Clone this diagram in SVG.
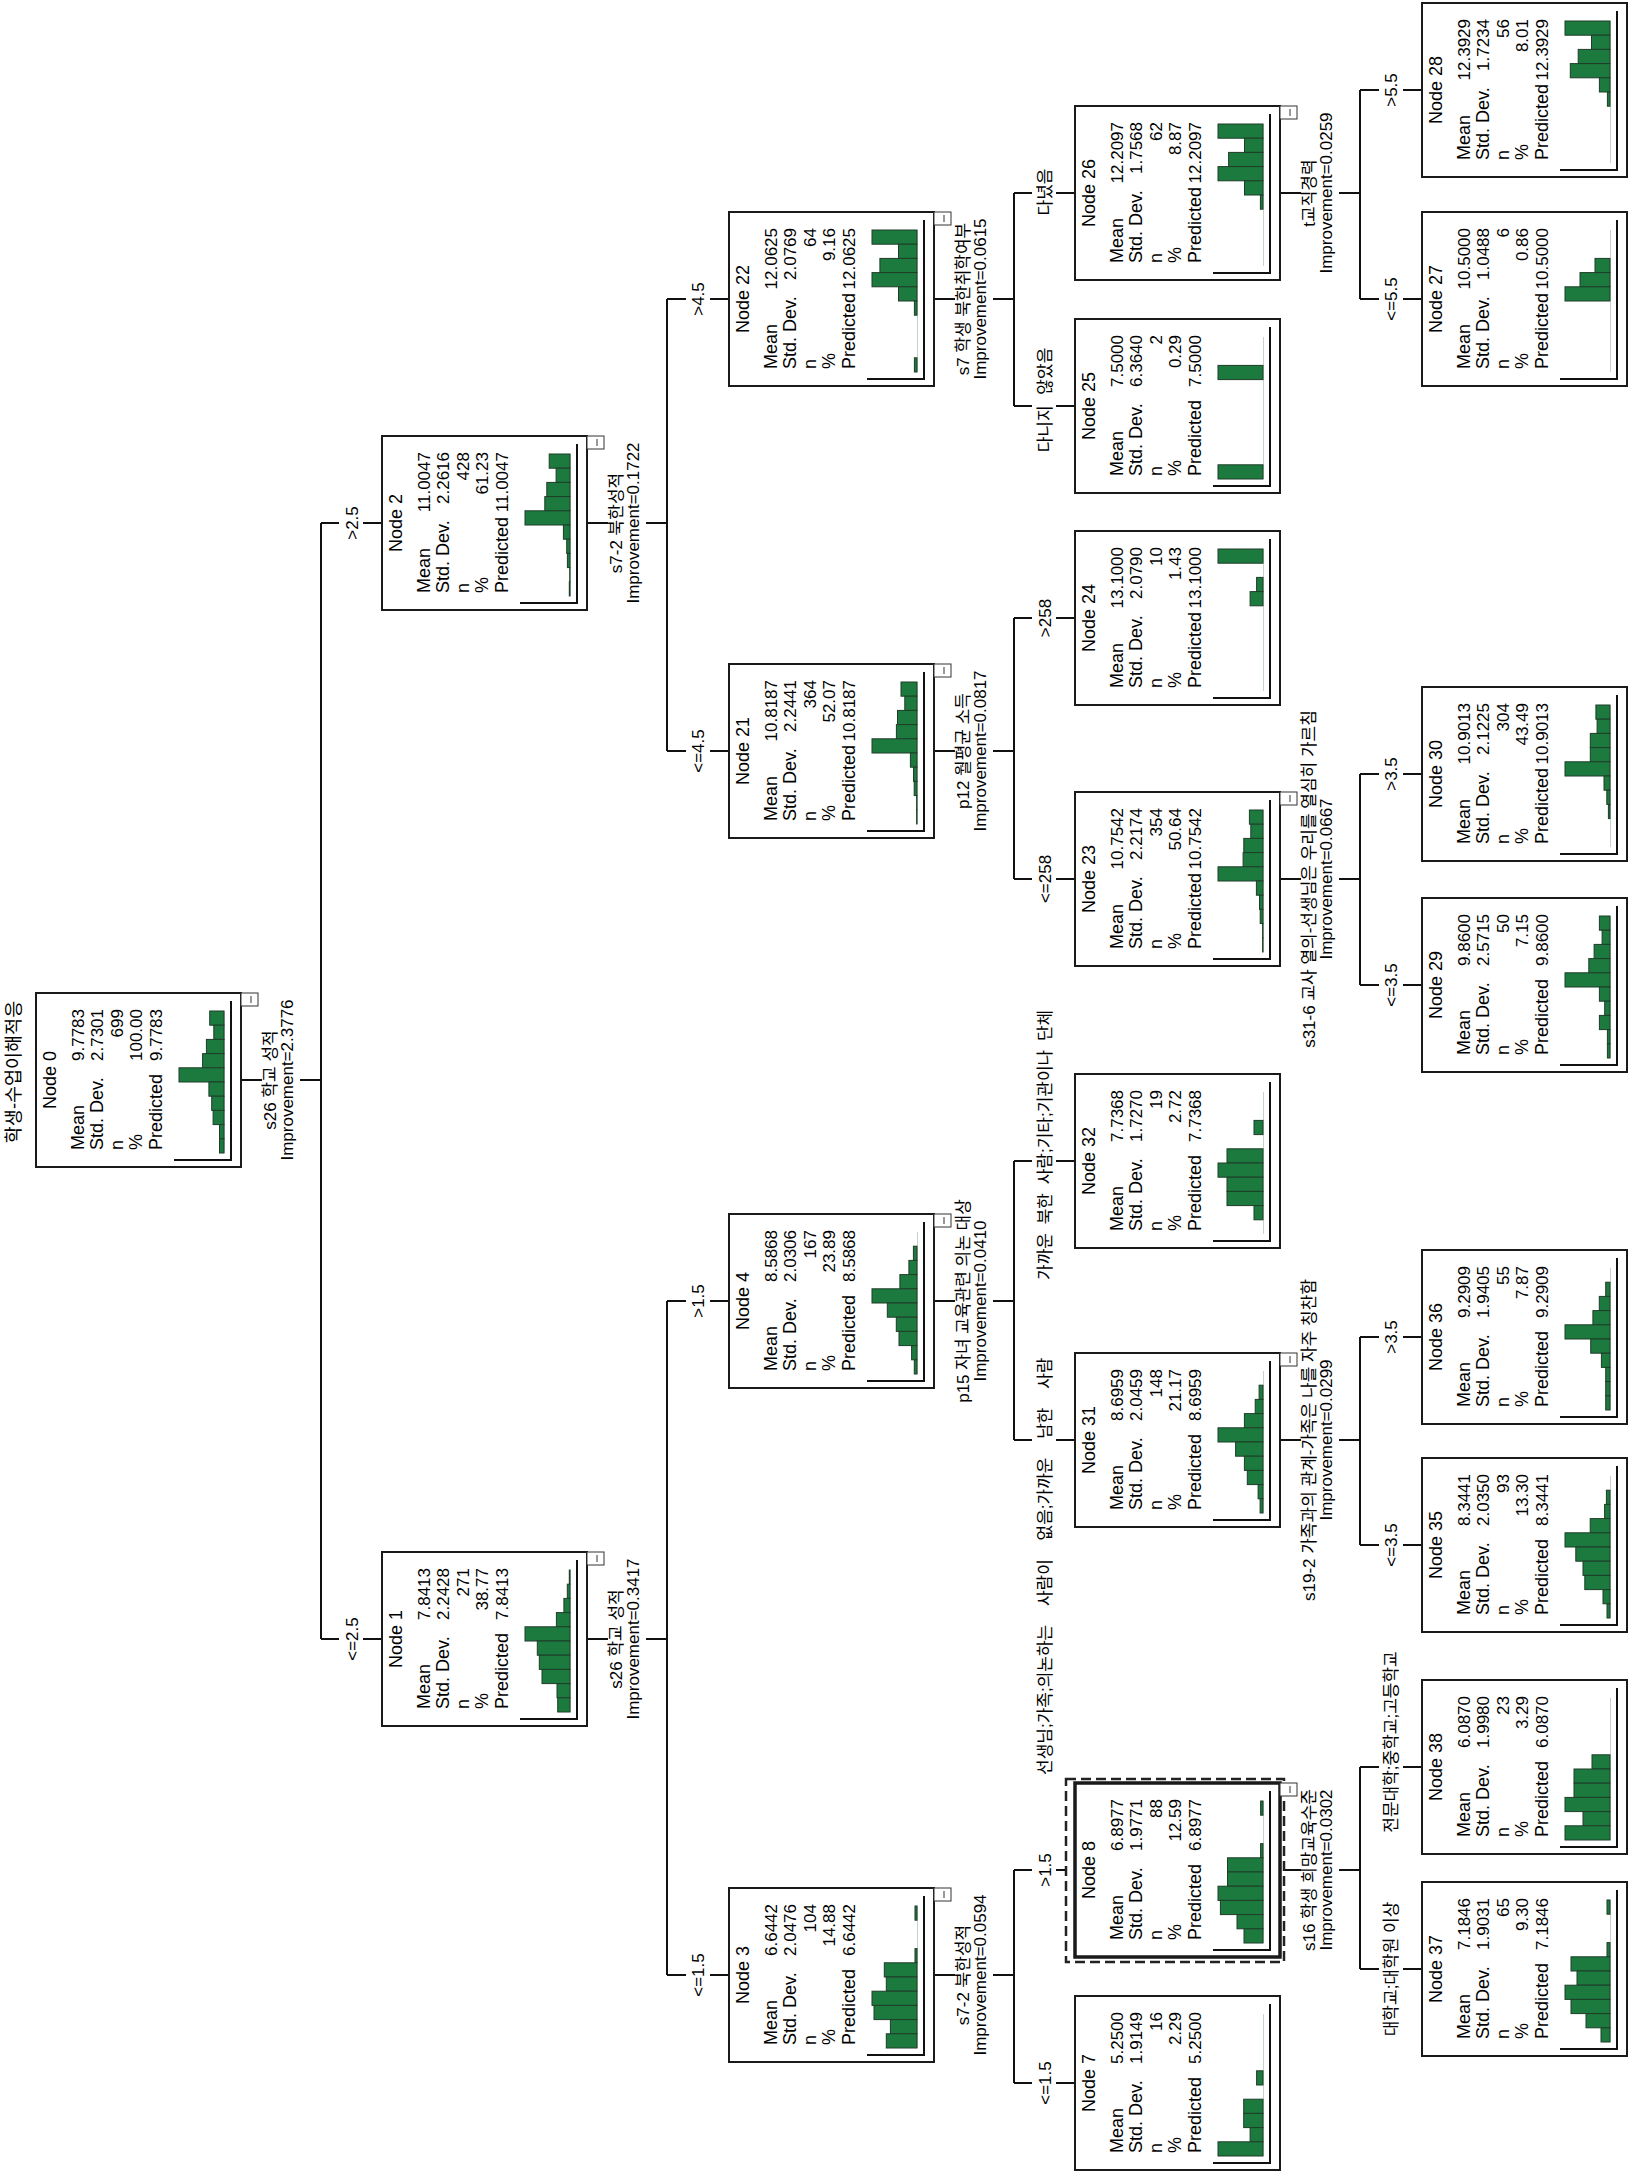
<svg xmlns="http://www.w3.org/2000/svg" width="1630" height="2173" viewBox="0 0 1630 2173">
<style>
.box{fill:#fff;stroke:#1a1a1a;stroke-width:2}
.mini{fill:#fff;stroke:#333;stroke-width:1}
.base{stroke:#c4d4c8;stroke-width:1}
.b{fill:#1c7a3e;stroke:#1f3d28;stroke-width:1}
.ax{fill:none;stroke:#111;stroke-width:2}
.t{font-family:"Liberation Sans","Noto Sans CJK KR",sans-serif;font-size:18px;fill:#000}
.t .v{font-size:17px}
.l{font-family:"Liberation Sans","Noto Sans CJK KR",sans-serif;font-size:17px;fill:#000}
.c{stroke:#111;stroke-width:2;fill:none}
.w{fill:#fff}
</style>
<rect width="1630" height="2173" fill="#fff"/>
<text class="t" transform="translate(20,1072) rotate(-90)" text-anchor="middle" style="font-size:18.5px">학생-수업이해적응</text>

<g id="connectors">
<path class="c" d="M241,1080H321M321,523V1639M321,523H382M321,1639H382"/>
<path class="c" d="M587,523H667M667,299V751M667,299H729M667,751H729"/>
<path class="c" d="M587,1639H667M667,1301V1975M667,1301H729M667,1975H729"/>
<path class="c" d="M934,299H1014M1014,193V406M1014,193H1075M1014,406H1075"/>
<path class="c" d="M934,751H1014M1014,618V879M1014,618H1075M1014,879H1075"/>
<path class="c" d="M934,1301H1014M1014,1161V1440M1014,1161H1075M1014,1440H1075"/>
<path class="c" d="M934,1975H1014M1014,1870V2083M1014,1870H1066M1014,2083H1075"/>
<path class="c" d="M1280,193H1360M1360,90V299M1360,90H1422M1360,299H1422"/>
<path class="c" d="M1280,879H1360M1360,774V985M1360,774H1422M1360,985H1422"/>
<path class="c" d="M1280,1440H1360M1360,1337V1545M1360,1337H1422M1360,1545H1422"/>
<path class="c" d="M1284,1870H1360M1360,1767V1969M1360,1767H1422M1360,1969H1422"/>
</g>

<g id="labels">
<rect class="w" x="262" y="1075" width="38" height="10"/>
<rect class="w" x="608" y="518" width="38" height="10"/>
<rect class="w" x="608" y="1634" width="38" height="10"/>
<rect class="w" x="955" y="294" width="38" height="10"/>
<rect class="w" x="955" y="746" width="38" height="10"/>
<rect class="w" x="955" y="1296" width="38" height="10"/>
<rect class="w" x="955" y="1970" width="38" height="10"/>
<rect class="w" x="1301" y="188" width="38" height="10"/>
<rect class="w" x="1301" y="874" width="38" height="10"/>
<rect class="w" x="1301" y="1435" width="38" height="10"/>
<rect class="w" x="1301" y="1865" width="38" height="10"/>
<rect class="w" x="339" y="518" width="24" height="10"/>
<rect class="w" x="339" y="1634" width="24" height="10"/>
<rect class="w" x="686" y="294" width="24" height="10"/>
<rect class="w" x="686" y="746" width="24" height="10"/>
<rect class="w" x="686" y="1296" width="24" height="10"/>
<rect class="w" x="686" y="1970" width="24" height="10"/>
<rect class="w" x="1032" y="188" width="24" height="10"/>
<rect class="w" x="1032" y="401" width="24" height="10"/>
<rect class="w" x="1032" y="613" width="24" height="10"/>
<rect class="w" x="1032" y="874" width="24" height="10"/>
<rect class="w" x="1032" y="1156" width="24" height="10"/>
<rect class="w" x="1032" y="1435" width="24" height="10"/>
<rect class="w" x="1032" y="1865" width="24" height="10"/>
<rect class="w" x="1032" y="2078" width="24" height="10"/>
<rect class="w" x="1379" y="85" width="24" height="10"/>
<rect class="w" x="1379" y="294" width="24" height="10"/>
<rect class="w" x="1379" y="769" width="24" height="10"/>
<rect class="w" x="1379" y="980" width="24" height="10"/>
<rect class="w" x="1379" y="1332" width="24" height="10"/>
<rect class="w" x="1379" y="1540" width="24" height="10"/>
<rect class="w" x="1379" y="1762" width="24" height="10"/>
<rect class="w" x="1379" y="1964" width="24" height="10"/>
<g class="l" text-anchor="middle">
<text transform="translate(276,1080) rotate(-90)">s26 학교 성적</text>
<text transform="translate(293,1080) rotate(-90)">Improvement=2.3776</text>
<text transform="translate(622,523) rotate(-90)">s7-2 북한성적</text>
<text transform="translate(639,523) rotate(-90)">Improvement=0.1722</text>
<text transform="translate(622,1639) rotate(-90)">s26 학교 성적</text>
<text transform="translate(639,1639) rotate(-90)">Improvement=0.3417</text>
<text transform="translate(969,299) rotate(-90)">s7 학생 북한취학여부</text>
<text transform="translate(986,299) rotate(-90)">Improvement=0.0615</text>
<text transform="translate(969,751) rotate(-90)">p12 월평균 소득</text>
<text transform="translate(986,751) rotate(-90)">Improvement=0.0817</text>
<text transform="translate(969,1301) rotate(-90)">p15 자녀 교육관련 의논 대상</text>
<text transform="translate(986,1301) rotate(-90)">Improvement=0.0410</text>
<text transform="translate(969,1975) rotate(-90)">s7-2 북한성적</text>
<text transform="translate(986,1975) rotate(-90)">Improvement=0.0594</text>
<text transform="translate(1315,193) rotate(-90)">t교직경력</text>
<text transform="translate(1332,193) rotate(-90)">Improvement=0.0259</text>
<text transform="translate(1315,879) rotate(-90)">s31-6 교사 열의-선생님은 우리를 열심히 가르침</text>
<text transform="translate(1332,879) rotate(-90)">Improvement=0.0667</text>
<text transform="translate(1315,1440) rotate(-90)">s19-2 가족과의 관계-가족은 나를 자주 칭찬함</text>
<text transform="translate(1332,1440) rotate(-90)">Improvement=0.0299</text>
<text transform="translate(1315,1870) rotate(-90)">s16 학생 희망교육수준</text>
<text transform="translate(1332,1870) rotate(-90)">Improvement=0.0302</text>
<text transform="translate(357.5,1639) rotate(-90)">&lt;=2.5</text>
<text transform="translate(357.5,523) rotate(-90)">&gt;2.5</text>
<text transform="translate(704,751) rotate(-90)">&lt;=4.5</text>
<text transform="translate(704,299) rotate(-90)">&gt;4.5</text>
<text transform="translate(704,1975) rotate(-90)">&lt;=1.5</text>
<text transform="translate(704,1301) rotate(-90)">&gt;1.5</text>
<text transform="translate(1050.5,400) rotate(-90)" style="word-spacing:6px">다니지 않았음</text>
<text transform="translate(1050.5,192) rotate(-90)">다녔음</text>
<text transform="translate(1050.5,879) rotate(-90)">&lt;=258</text>
<text transform="translate(1050.5,618) rotate(-90)">&gt;258</text>
<text transform="translate(1050.5,2083) rotate(-90)">&lt;=1.5</text>
<text transform="translate(1050.5,1870) rotate(-90)">&gt;1.5</text>
<text transform="translate(1397,299) rotate(-90)">&lt;=5.5</text>
<text transform="translate(1397,90) rotate(-90)">&gt;5.5</text>
<text transform="translate(1397,985) rotate(-90)">&lt;=3.5</text>
<text transform="translate(1397,774) rotate(-90)">&gt;3.5</text>
<text transform="translate(1397,1545) rotate(-90)">&lt;=3.5</text>
<text transform="translate(1397,1337) rotate(-90)">&gt;3.5</text>
<text transform="translate(1397,1969) rotate(-90)">대학교;대학원 이상</text>
<text transform="translate(1397,1742) rotate(-90)">전문대학;중학교;고등학교</text>
</g>
<text class="l" transform="translate(1050.5,1775) rotate(-90)" style="word-spacing:14px">선생님;가족;의논하는 사람이 없음;가까운 남한 사람</text>
<text class="l" transform="translate(1050.5,1280) rotate(-90)" style="word-spacing:4px">가까운 북한 사람;기타;기관이나 단체</text>
</g>

<g id="node0" transform="translate(36,993)">
<rect class="box" width="205" height="174"/><rect class="mini" x="205" width="17" height="13"/><path class="mini" d="M215,3V10"/>
<path class="base" d="M188.5,18V160"/>
<rect class="b" x="173.7" y="18" width="14.3" height="14.2"/><rect class="b" x="177.8" y="32.2" width="10.2" height="14.2"/><rect class="b" x="170.4" y="46.4" width="17.6" height="14.2"/><rect class="b" x="166.6" y="60.6" width="21.4" height="14.2"/><rect class="b" x="143" y="74.8" width="45" height="14.2"/><rect class="b" x="172.9" y="89" width="15.1" height="14.2"/><rect class="b" x="175.7" y="103.2" width="12.3" height="14.2"/><rect class="b" x="177.1" y="117.4" width="10.9" height="14.2"/><rect class="b" x="183.5" y="131.6" width="4.5" height="14.2"/><rect class="b" x="183.5" y="145.8" width="4.5" height="14.2"/>
<path class="ax" d="M195,8V167H138"/>
<g class="t" transform="translate(0,174) rotate(-90)"><text x="87" y="20" text-anchor="middle">Node 0</text><text x="17" y="48">Mean</text><text x="17" y="67">Std. Dev.</text><text x="17" y="87">n</text><text x="17" y="106">%</text><text x="17" y="126">Predicted</text><g class="v" text-anchor="end"><text x="158" y="48">9.7783</text><text x="158" y="67">2.7301</text><text x="158" y="87">699</text><text x="158" y="106">100.00</text><text x="158" y="126">9.7783</text></g></g>
</g>

<g id="node1" transform="translate(382,1552)">
<rect class="box" width="205" height="174"/><rect class="mini" x="205" width="17" height="13"/><path class="mini" d="M215,3V10"/>
<path class="base" d="M188.5,18V160"/>
<rect class="b" x="187.3" y="18" width="0.7" height="14.2"/><rect class="b" x="185.3" y="32.2" width="2.7" height="14.2"/><rect class="b" x="181.9" y="46.4" width="6.1" height="14.2"/><rect class="b" x="174.4" y="60.6" width="13.6" height="14.2"/><rect class="b" x="143" y="74.8" width="45" height="14.2"/><rect class="b" x="155.3" y="89" width="32.7" height="14.2"/><rect class="b" x="157.3" y="103.2" width="30.7" height="14.2"/><rect class="b" x="160" y="117.4" width="28" height="14.2"/><rect class="b" x="175" y="131.6" width="13" height="14.2"/><rect class="b" x="175.7" y="145.8" width="12.3" height="14.2"/>
<path class="ax" d="M195,8V167H138"/>
<g class="t" transform="translate(0,174) rotate(-90)"><text x="87" y="20" text-anchor="middle">Node 1</text><text x="17" y="48">Mean</text><text x="17" y="67">Std. Dev.</text><text x="17" y="87">n</text><text x="17" y="106">%</text><text x="17" y="126">Predicted</text><g class="v" text-anchor="end"><text x="158" y="48">7.8413</text><text x="158" y="67">2.2428</text><text x="158" y="87">271</text><text x="158" y="106">38.77</text><text x="158" y="126">7.8413</text></g></g>
</g>

<g id="node2" transform="translate(382,436)">
<rect class="box" width="205" height="174"/><rect class="mini" x="205" width="17" height="13"/><path class="mini" d="M215,3V10"/>
<path class="base" d="M188.5,18V160"/>
<rect class="b" x="167.2" y="18" width="20.8" height="14.2"/><rect class="b" x="174.1" y="32.2" width="13.9" height="14.2"/><rect class="b" x="164.8" y="46.4" width="23.2" height="14.2"/><rect class="b" x="162.8" y="60.6" width="25.2" height="14.2"/><rect class="b" x="143" y="74.8" width="45" height="14.2"/><rect class="b" x="181.4" y="89" width="6.6" height="14.2"/><rect class="b" x="184.7" y="103.2" width="3.3" height="14.2"/><rect class="b" x="185.4" y="117.4" width="2.6" height="14.2"/><rect class="b" x="187.7" y="131.6" width="0.3" height="14.2"/><rect class="b" x="187.3" y="145.8" width="0.7" height="14.2"/>
<path class="ax" d="M195,8V167H138"/>
<g class="t" transform="translate(0,174) rotate(-90)"><text x="87" y="20" text-anchor="middle">Node 2</text><text x="17" y="48">Mean</text><text x="17" y="67">Std. Dev.</text><text x="17" y="87">n</text><text x="17" y="106">%</text><text x="17" y="126">Predicted</text><g class="v" text-anchor="end"><text x="158" y="48">11.0047</text><text x="158" y="67">2.2616</text><text x="158" y="87">428</text><text x="158" y="106">61.23</text><text x="158" y="126">11.0047</text></g></g>
</g>

<g id="node3" transform="translate(729,1888)">
<rect class="box" width="205" height="174"/><rect class="mini" x="205" width="17" height="13"/><path class="mini" d="M215,3V10"/>
<path class="base" d="M188.5,18V160"/>
<rect class="b" x="186" y="18" width="2" height="14.2"/><rect class="b" x="186" y="60.6" width="2" height="14.2"/><rect class="b" x="155.3" y="74.8" width="32.7" height="14.2"/><rect class="b" x="157.3" y="89" width="30.7" height="14.2"/><rect class="b" x="143" y="103.2" width="45" height="14.2"/><rect class="b" x="145" y="117.4" width="43" height="14.2"/><rect class="b" x="161.4" y="131.6" width="26.6" height="14.2"/><rect class="b" x="157.3" y="145.8" width="30.7" height="14.2"/>
<path class="ax" d="M195,8V167H138"/>
<g class="t" transform="translate(0,174) rotate(-90)"><text x="87" y="20" text-anchor="middle">Node 3</text><text x="17" y="48">Mean</text><text x="17" y="67">Std. Dev.</text><text x="17" y="87">n</text><text x="17" y="106">%</text><text x="17" y="126">Predicted</text><g class="v" text-anchor="end"><text x="158" y="48">6.6442</text><text x="158" y="67">2.0476</text><text x="158" y="87">104</text><text x="158" y="106">14.88</text><text x="158" y="126">6.6442</text></g></g>
</g>

<g id="node4" transform="translate(729,1214)">
<rect class="box" width="205" height="174"/><rect class="mini" x="205" width="17" height="13"/><path class="mini" d="M215,3V10"/>
<path class="base" d="M188.5,18V160"/>
<rect class="b" x="184.4" y="32.2" width="3.6" height="14.2"/><rect class="b" x="179.9" y="46.4" width="8.1" height="14.2"/><rect class="b" x="170.9" y="60.6" width="17.1" height="14.2"/><rect class="b" x="143" y="74.8" width="45" height="14.2"/><rect class="b" x="158.3" y="89" width="29.7" height="14.2"/><rect class="b" x="167.3" y="103.2" width="20.7" height="14.2"/><rect class="b" x="170" y="117.4" width="18" height="14.2"/><rect class="b" x="182.6" y="131.6" width="5.4" height="14.2"/><rect class="b" x="185.3" y="145.8" width="2.7" height="14.2"/>
<path class="ax" d="M195,8V167H138"/>
<g class="t" transform="translate(0,174) rotate(-90)"><text x="87" y="20" text-anchor="middle">Node 4</text><text x="17" y="48">Mean</text><text x="17" y="67">Std. Dev.</text><text x="17" y="87">n</text><text x="17" y="106">%</text><text x="17" y="126">Predicted</text><g class="v" text-anchor="end"><text x="158" y="48">8.5868</text><text x="158" y="67">2.0306</text><text x="158" y="87">167</text><text x="158" y="106">23.89</text><text x="158" y="126">8.5868</text></g></g>
</g>

<g id="node21" transform="translate(729,664)">
<rect class="box" width="205" height="174"/><rect class="mini" x="205" width="17" height="13"/><path class="mini" d="M215,3V10"/>
<path class="base" d="M188.5,18V160"/>
<rect class="b" x="172" y="18" width="16" height="14.2"/><rect class="b" x="175.8" y="32.2" width="12.2" height="14.2"/><rect class="b" x="168.5" y="46.4" width="19.5" height="14.2"/><rect class="b" x="167.4" y="60.6" width="20.6" height="14.2"/><rect class="b" x="143" y="74.8" width="45" height="14.2"/><rect class="b" x="181.4" y="89" width="6.6" height="14.2"/><rect class="b" x="184.5" y="103.2" width="3.5" height="14.2"/><rect class="b" x="185.2" y="117.4" width="2.8" height="14.2"/><rect class="b" x="187.6" y="131.6" width="0.4" height="14.2"/><rect class="b" x="187.6" y="145.8" width="0.4" height="14.2"/>
<path class="ax" d="M195,8V167H138"/>
<g class="t" transform="translate(0,174) rotate(-90)"><text x="87" y="20" text-anchor="middle">Node 21</text><text x="17" y="48">Mean</text><text x="17" y="67">Std. Dev.</text><text x="17" y="87">n</text><text x="17" y="106">%</text><text x="17" y="126">Predicted</text><g class="v" text-anchor="end"><text x="158" y="48">10.8187</text><text x="158" y="67">2.2441</text><text x="158" y="87">364</text><text x="158" y="106">52.07</text><text x="158" y="126">10.8187</text></g></g>
</g>

<g id="node22" transform="translate(729,212)">
<rect class="box" width="205" height="174"/><rect class="mini" x="205" width="17" height="13"/><path class="mini" d="M215,3V10"/>
<path class="base" d="M188.5,18V160"/>
<rect class="b" x="143" y="18" width="45" height="14.2"/><rect class="b" x="169.5" y="32.2" width="18.5" height="14.2"/><rect class="b" x="150.9" y="46.4" width="37.1" height="14.2"/><rect class="b" x="143" y="60.6" width="45" height="14.2"/><rect class="b" x="169.5" y="74.8" width="18.5" height="14.2"/><rect class="b" x="185.4" y="89" width="2.6" height="14.2"/><rect class="b" x="185.4" y="145.8" width="2.6" height="14.2"/>
<path class="ax" d="M195,8V167H138"/>
<g class="t" transform="translate(0,174) rotate(-90)"><text x="87" y="20" text-anchor="middle">Node 22</text><text x="17" y="48">Mean</text><text x="17" y="67">Std. Dev.</text><text x="17" y="87">n</text><text x="17" y="106">%</text><text x="17" y="126">Predicted</text><g class="v" text-anchor="end"><text x="158" y="48">12.0625</text><text x="158" y="67">2.0769</text><text x="158" y="87">64</text><text x="158" y="106">9.16</text><text x="158" y="126">12.0625</text></g></g>
</g>

<g id="node7" transform="translate(1075,1996)">
<rect class="box" width="205" height="174"/>
<path class="base" d="M188.5,18V160"/>
<rect class="b" x="181.6" y="74.8" width="6.4" height="14.2"/><rect class="b" x="168.7" y="103.2" width="19.3" height="14.2"/><rect class="b" x="168.7" y="117.4" width="19.3" height="14.2"/><rect class="b" x="175.1" y="131.6" width="12.9" height="14.2"/><rect class="b" x="143" y="145.8" width="45" height="14.2"/>
<path class="ax" d="M195,8V167H138"/>
<g class="t" transform="translate(0,174) rotate(-90)"><text x="87" y="20" text-anchor="middle">Node 7</text><text x="17" y="48">Mean</text><text x="17" y="67">Std. Dev.</text><text x="17" y="87">n</text><text x="17" y="106">%</text><text x="17" y="126">Predicted</text><g class="v" text-anchor="end"><text x="158" y="48">5.2500</text><text x="158" y="67">1.9149</text><text x="158" y="87">16</text><text x="158" y="106">2.29</text><text x="158" y="126">5.2500</text></g></g>
</g>

<g id="node8" transform="translate(1075,1783)">
<rect x="-9" y="-4" width="218" height="183" fill="none" stroke="#222" stroke-width="2.5" stroke-dasharray="10,5"/>
<rect class="box" width="205" height="174" style="stroke-width:3.5"/><rect class="mini" x="205" width="17" height="13"/><path class="mini" d="M215,3V10"/>
<path class="base" d="M188.5,18V160"/>
<rect class="b" x="185.6" y="18" width="2.4" height="14.2"/><rect class="b" x="185.6" y="60.6" width="2.4" height="14.2"/><rect class="b" x="152.5" y="74.8" width="35.5" height="14.2"/><rect class="b" x="152.5" y="89" width="35.5" height="14.2"/><rect class="b" x="143" y="103.2" width="45" height="14.2"/><rect class="b" x="145.4" y="117.4" width="42.6" height="14.2"/><rect class="b" x="162" y="131.6" width="26" height="14.2"/><rect class="b" x="169" y="145.8" width="19" height="14.2"/>
<path class="ax" d="M195,8V167H138"/>
<g class="t" transform="translate(0,174) rotate(-90)"><text x="87" y="20" text-anchor="middle">Node 8</text><text x="17" y="48">Mean</text><text x="17" y="67">Std. Dev.</text><text x="17" y="87">n</text><text x="17" y="106">%</text><text x="17" y="126">Predicted</text><g class="v" text-anchor="end"><text x="158" y="48">6.8977</text><text x="158" y="67">1.9771</text><text x="158" y="87">88</text><text x="158" y="106">12.59</text><text x="158" y="126">6.8977</text></g></g>
</g>

<g id="node31" transform="translate(1075,1353)">
<rect class="box" width="205" height="174"/><rect class="mini" x="205" width="17" height="13"/><path class="mini" d="M215,3V10"/>
<path class="base" d="M188.5,18V160"/>
<rect class="b" x="184.1" y="32.2" width="3.9" height="14.2"/><rect class="b" x="180.2" y="46.4" width="7.8" height="14.2"/><rect class="b" x="169.4" y="60.6" width="18.6" height="14.2"/><rect class="b" x="143" y="74.8" width="45" height="14.2"/><rect class="b" x="160.6" y="89" width="27.4" height="14.2"/><rect class="b" x="169.4" y="103.2" width="18.6" height="14.2"/><rect class="b" x="172.3" y="117.4" width="15.7" height="14.2"/><rect class="b" x="183.1" y="131.6" width="4.9" height="14.2"/><rect class="b" x="185.1" y="145.8" width="2.9" height="14.2"/>
<path class="ax" d="M195,8V167H138"/>
<g class="t" transform="translate(0,174) rotate(-90)"><text x="87" y="20" text-anchor="middle">Node 31</text><text x="17" y="48">Mean</text><text x="17" y="67">Std. Dev.</text><text x="17" y="87">n</text><text x="17" y="106">%</text><text x="17" y="126">Predicted</text><g class="v" text-anchor="end"><text x="158" y="48">8.6959</text><text x="158" y="67">2.0459</text><text x="158" y="87">148</text><text x="158" y="106">21.17</text><text x="158" y="126">8.6959</text></g></g>
</g>

<g id="node32" transform="translate(1075,1074)">
<rect class="box" width="205" height="174"/>
<path class="base" d="M188.5,18V160"/>
<rect class="b" x="179" y="46.4" width="9" height="14.2"/><rect class="b" x="152" y="74.8" width="36" height="14.2"/><rect class="b" x="143" y="89" width="45" height="14.2"/><rect class="b" x="152" y="103.2" width="36" height="14.2"/><rect class="b" x="152" y="117.4" width="36" height="14.2"/><rect class="b" x="179" y="131.6" width="9" height="14.2"/>
<path class="ax" d="M195,8V167H138"/>
<g class="t" transform="translate(0,174) rotate(-90)"><text x="87" y="20" text-anchor="middle">Node 32</text><text x="17" y="48">Mean</text><text x="17" y="67">Std. Dev.</text><text x="17" y="87">n</text><text x="17" y="106">%</text><text x="17" y="126">Predicted</text><g class="v" text-anchor="end"><text x="158" y="48">7.7368</text><text x="158" y="67">1.7270</text><text x="158" y="87">19</text><text x="158" y="106">2.72</text><text x="158" y="126">7.7368</text></g></g>
</g>

<g id="node23" transform="translate(1075,792)">
<rect class="box" width="205" height="174"/><rect class="mini" x="205" width="17" height="13"/><path class="mini" d="M215,3V10"/>
<path class="base" d="M188.5,18V160"/>
<rect class="b" x="174.4" y="18" width="13.6" height="14.2"/><rect class="b" x="175.8" y="32.2" width="12.2" height="14.2"/><rect class="b" x="168.8" y="46.4" width="19.2" height="14.2"/><rect class="b" x="168.1" y="60.6" width="19.9" height="14.2"/><rect class="b" x="143" y="74.8" width="45" height="14.2"/><rect class="b" x="181.4" y="89" width="6.6" height="14.2"/><rect class="b" x="184.5" y="103.2" width="3.5" height="14.2"/><rect class="b" x="185.2" y="117.4" width="2.8" height="14.2"/><rect class="b" x="187.6" y="131.6" width="0.4" height="14.2"/><rect class="b" x="187.6" y="145.8" width="0.4" height="14.2"/>
<path class="ax" d="M195,8V167H138"/>
<g class="t" transform="translate(0,174) rotate(-90)"><text x="87" y="20" text-anchor="middle">Node 23</text><text x="17" y="48">Mean</text><text x="17" y="67">Std. Dev.</text><text x="17" y="87">n</text><text x="17" y="106">%</text><text x="17" y="126">Predicted</text><g class="v" text-anchor="end"><text x="158" y="48">10.7542</text><text x="158" y="67">2.2174</text><text x="158" y="87">354</text><text x="158" y="106">50.64</text><text x="158" y="126">10.7542</text></g></g>
</g>

<g id="node24" transform="translate(1075,531)">
<rect class="box" width="205" height="174"/>
<path class="base" d="M188.5,18V160"/>
<rect class="b" x="143" y="18" width="45" height="14.2"/><rect class="b" x="181.6" y="46.4" width="6.4" height="14.2"/><rect class="b" x="175.1" y="60.6" width="12.9" height="14.2"/>
<path class="ax" d="M195,8V167H138"/>
<g class="t" transform="translate(0,174) rotate(-90)"><text x="87" y="20" text-anchor="middle">Node 24</text><text x="17" y="48">Mean</text><text x="17" y="67">Std. Dev.</text><text x="17" y="87">n</text><text x="17" y="106">%</text><text x="17" y="126">Predicted</text><g class="v" text-anchor="end"><text x="158" y="48">13.1000</text><text x="158" y="67">2.0790</text><text x="158" y="87">10</text><text x="158" y="106">1.43</text><text x="158" y="126">13.1000</text></g></g>
</g>

<g id="node25" transform="translate(1075,319)">
<rect class="box" width="205" height="174"/>
<path class="base" d="M188.5,18V160"/>
<rect class="b" x="143" y="46.4" width="45" height="14.2"/><rect class="b" x="143" y="145.8" width="45" height="14.2"/>
<path class="ax" d="M195,8V167H138"/>
<g class="t" transform="translate(0,174) rotate(-90)"><text x="87" y="20" text-anchor="middle">Node 25</text><text x="17" y="48">Mean</text><text x="17" y="67">Std. Dev.</text><text x="17" y="87">n</text><text x="17" y="106">%</text><text x="17" y="126">Predicted</text><g class="v" text-anchor="end"><text x="158" y="48">7.5000</text><text x="158" y="67">6.3640</text><text x="158" y="87">2</text><text x="158" y="106">0.29</text><text x="158" y="126">7.5000</text></g></g>
</g>

<g id="node26" transform="translate(1075,106)">
<rect class="box" width="205" height="174"/><rect class="mini" x="205" width="17" height="13"/><path class="mini" d="M215,3V10"/>
<path class="base" d="M188.5,18V160"/>
<rect class="b" x="143" y="18" width="45" height="14.2"/><rect class="b" x="169.5" y="32.2" width="18.5" height="14.2"/><rect class="b" x="153.6" y="46.4" width="34.4" height="14.2"/><rect class="b" x="143" y="60.6" width="45" height="14.2"/><rect class="b" x="169.5" y="74.8" width="18.5" height="14.2"/><rect class="b" x="185.4" y="89" width="2.6" height="14.2"/>
<path class="ax" d="M195,8V167H138"/>
<g class="t" transform="translate(0,174) rotate(-90)"><text x="87" y="20" text-anchor="middle">Node 26</text><text x="17" y="48">Mean</text><text x="17" y="67">Std. Dev.</text><text x="17" y="87">n</text><text x="17" y="106">%</text><text x="17" y="126">Predicted</text><g class="v" text-anchor="end"><text x="158" y="48">12.2097</text><text x="158" y="67">1.7568</text><text x="158" y="87">62</text><text x="158" y="106">8.87</text><text x="158" y="126">12.2097</text></g></g>
</g>

<g id="node37" transform="translate(1422,1882)">
<rect class="box" width="205" height="174"/>
<path class="base" d="M188.5,18V160"/>
<rect class="b" x="185" y="18" width="3" height="14.2"/><rect class="b" x="185" y="60.6" width="3" height="14.2"/><rect class="b" x="149" y="74.8" width="39" height="14.2"/><rect class="b" x="155" y="89" width="33" height="14.2"/><rect class="b" x="143" y="103.2" width="45" height="14.2"/><rect class="b" x="149" y="117.4" width="39" height="14.2"/><rect class="b" x="164" y="131.6" width="24" height="14.2"/><rect class="b" x="179" y="145.8" width="9" height="14.2"/>
<path class="ax" d="M195,8V167H138"/>
<g class="t" transform="translate(0,174) rotate(-90)"><text x="87" y="20" text-anchor="middle">Node 37</text><text x="17" y="48">Mean</text><text x="17" y="67">Std. Dev.</text><text x="17" y="87">n</text><text x="17" y="106">%</text><text x="17" y="126">Predicted</text><g class="v" text-anchor="end"><text x="158" y="48">7.1846</text><text x="158" y="67">1.9031</text><text x="158" y="87">65</text><text x="158" y="106">9.30</text><text x="158" y="126">7.1846</text></g></g>
</g>

<g id="node38" transform="translate(1422,1680)">
<rect class="box" width="205" height="174"/>
<path class="base" d="M188.5,18V160"/>
<rect class="b" x="170" y="74.8" width="18" height="14.2"/><rect class="b" x="152" y="89" width="36" height="14.2"/><rect class="b" x="152" y="103.2" width="36" height="14.2"/><rect class="b" x="143" y="117.4" width="45" height="14.2"/><rect class="b" x="161" y="131.6" width="27" height="14.2"/><rect class="b" x="143" y="145.8" width="45" height="14.2"/>
<path class="ax" d="M195,8V167H138"/>
<g class="t" transform="translate(0,174) rotate(-90)"><text x="87" y="20" text-anchor="middle">Node 38</text><text x="17" y="48">Mean</text><text x="17" y="67">Std. Dev.</text><text x="17" y="87">n</text><text x="17" y="106">%</text><text x="17" y="126">Predicted</text><g class="v" text-anchor="end"><text x="158" y="48">6.0870</text><text x="158" y="67">1.9980</text><text x="158" y="87">23</text><text x="158" y="106">3.29</text><text x="158" y="126">6.0870</text></g></g>
</g>

<g id="node35" transform="translate(1422,1458)">
<rect class="box" width="205" height="174"/>
<path class="base" d="M188.5,18V160"/>
<rect class="b" x="184.4" y="32.2" width="3.6" height="14.2"/><rect class="b" x="182.6" y="46.4" width="5.4" height="14.2"/><rect class="b" x="168.2" y="60.6" width="19.8" height="14.2"/><rect class="b" x="143" y="74.8" width="45" height="14.2"/><rect class="b" x="153.8" y="89" width="34.2" height="14.2"/><rect class="b" x="161" y="103.2" width="27" height="14.2"/><rect class="b" x="162.8" y="117.4" width="25.2" height="14.2"/><rect class="b" x="181" y="131.6" width="7" height="14.2"/><rect class="b" x="185" y="145.8" width="3" height="14.2"/>
<path class="ax" d="M195,8V167H138"/>
<g class="t" transform="translate(0,174) rotate(-90)"><text x="87" y="20" text-anchor="middle">Node 35</text><text x="17" y="48">Mean</text><text x="17" y="67">Std. Dev.</text><text x="17" y="87">n</text><text x="17" y="106">%</text><text x="17" y="126">Predicted</text><g class="v" text-anchor="end"><text x="158" y="48">8.3441</text><text x="158" y="67">2.0350</text><text x="158" y="87">93</text><text x="158" y="106">13.30</text><text x="158" y="126">8.3441</text></g></g>
</g>

<g id="node36" transform="translate(1422,1250)">
<rect class="box" width="205" height="174"/>
<path class="base" d="M188.5,18V160"/>
<rect class="b" x="183.7" y="32.2" width="4.3" height="14.2"/><rect class="b" x="177.3" y="46.4" width="10.7" height="14.2"/><rect class="b" x="170.9" y="60.6" width="17.1" height="14.2"/><rect class="b" x="143" y="74.8" width="45" height="14.2"/><rect class="b" x="168.7" y="89" width="19.3" height="14.2"/><rect class="b" x="179.4" y="103.2" width="8.6" height="14.2"/><rect class="b" x="183.7" y="117.4" width="4.3" height="14.2"/><rect class="b" x="183.7" y="131.6" width="4.3" height="14.2"/><rect class="b" x="183.7" y="145.8" width="4.3" height="14.2"/>
<path class="ax" d="M195,8V167H138"/>
<g class="t" transform="translate(0,174) rotate(-90)"><text x="87" y="20" text-anchor="middle">Node 36</text><text x="17" y="48">Mean</text><text x="17" y="67">Std. Dev.</text><text x="17" y="87">n</text><text x="17" y="106">%</text><text x="17" y="126">Predicted</text><g class="v" text-anchor="end"><text x="158" y="48">9.2909</text><text x="158" y="67">1.9405</text><text x="158" y="87">55</text><text x="158" y="106">7.87</text><text x="158" y="126">9.2909</text></g></g>
</g>

<g id="node29" transform="translate(1422,898)">
<rect class="box" width="205" height="174"/>
<path class="base" d="M188.5,18V160"/>
<rect class="b" x="177.4" y="18" width="10.6" height="14.2"/><rect class="b" x="180.1" y="32.2" width="7.9" height="14.2"/><rect class="b" x="172.1" y="46.4" width="15.9" height="14.2"/><rect class="b" x="166.8" y="60.6" width="21.2" height="14.2"/><rect class="b" x="143" y="74.8" width="45" height="14.2"/><rect class="b" x="177.4" y="89" width="10.6" height="14.2"/><rect class="b" x="182.7" y="103.2" width="5.3" height="14.2"/><rect class="b" x="177.4" y="117.4" width="10.6" height="14.2"/><rect class="b" x="185.4" y="131.6" width="2.6" height="14.2"/><rect class="b" x="185.4" y="145.8" width="2.6" height="14.2"/>
<path class="ax" d="M195,8V167H138"/>
<g class="t" transform="translate(0,174) rotate(-90)"><text x="87" y="20" text-anchor="middle">Node 29</text><text x="17" y="48">Mean</text><text x="17" y="67">Std. Dev.</text><text x="17" y="87">n</text><text x="17" y="106">%</text><text x="17" y="126">Predicted</text><g class="v" text-anchor="end"><text x="158" y="48">9.8600</text><text x="158" y="67">2.5715</text><text x="158" y="87">50</text><text x="158" y="106">7.15</text><text x="158" y="126">9.8600</text></g></g>
</g>

<g id="node30" transform="translate(1422,687)">
<rect class="box" width="205" height="174"/>
<path class="base" d="M188.5,18V160"/>
<rect class="b" x="173.9" y="18" width="14.1" height="14.2"/><rect class="b" x="175.1" y="32.2" width="12.9" height="14.2"/><rect class="b" x="168.3" y="46.4" width="19.7" height="14.2"/><rect class="b" x="168.3" y="60.6" width="19.7" height="14.2"/><rect class="b" x="143" y="74.8" width="45" height="14.2"/><rect class="b" x="182" y="89" width="6" height="14.2"/><rect class="b" x="184.8" y="103.2" width="3.2" height="14.2"/><rect class="b" x="186.4" y="117.4" width="1.6" height="14.2"/>
<path class="ax" d="M195,8V167H138"/>
<g class="t" transform="translate(0,174) rotate(-90)"><text x="87" y="20" text-anchor="middle">Node 30</text><text x="17" y="48">Mean</text><text x="17" y="67">Std. Dev.</text><text x="17" y="87">n</text><text x="17" y="106">%</text><text x="17" y="126">Predicted</text><g class="v" text-anchor="end"><text x="158" y="48">10.9013</text><text x="158" y="67">2.1225</text><text x="158" y="87">304</text><text x="158" y="106">43.49</text><text x="158" y="126">10.9013</text></g></g>
</g>

<g id="node27" transform="translate(1422,212)">
<rect class="box" width="205" height="174"/>
<path class="base" d="M188.5,18V160"/>
<rect class="b" x="173" y="46.4" width="15" height="14.2"/><rect class="b" x="158" y="60.6" width="30" height="14.2"/><rect class="b" x="143" y="74.8" width="45" height="14.2"/>
<path class="ax" d="M195,8V167H138"/>
<g class="t" transform="translate(0,174) rotate(-90)"><text x="87" y="20" text-anchor="middle">Node 27</text><text x="17" y="48">Mean</text><text x="17" y="67">Std. Dev.</text><text x="17" y="87">n</text><text x="17" y="106">%</text><text x="17" y="126">Predicted</text><g class="v" text-anchor="end"><text x="158" y="48">10.5000</text><text x="158" y="67">1.0488</text><text x="158" y="87">6</text><text x="158" y="106">0.86</text><text x="158" y="126">10.5000</text></g></g>
</g>

<g id="node28" transform="translate(1422,3)">
<rect class="box" width="205" height="174"/>
<path class="base" d="M188.5,18V160"/>
<rect class="b" x="143" y="18" width="45" height="14.2"/><rect class="b" x="169.5" y="32.2" width="18.5" height="14.2"/><rect class="b" x="156.2" y="46.4" width="31.8" height="14.2"/><rect class="b" x="148.3" y="60.6" width="39.7" height="14.2"/><rect class="b" x="177.4" y="74.8" width="10.6" height="14.2"/><rect class="b" x="185.4" y="89" width="2.6" height="14.2"/>
<path class="ax" d="M195,8V167H138"/>
<g class="t" transform="translate(0,174) rotate(-90)"><text x="87" y="20" text-anchor="middle">Node 28</text><text x="17" y="48">Mean</text><text x="17" y="67">Std. Dev.</text><text x="17" y="87">n</text><text x="17" y="106">%</text><text x="17" y="126">Predicted</text><g class="v" text-anchor="end"><text x="158" y="48">12.3929</text><text x="158" y="67">1.7234</text><text x="158" y="87">56</text><text x="158" y="106">8.01</text><text x="158" y="126">12.3929</text></g></g>
</g>
</svg>
